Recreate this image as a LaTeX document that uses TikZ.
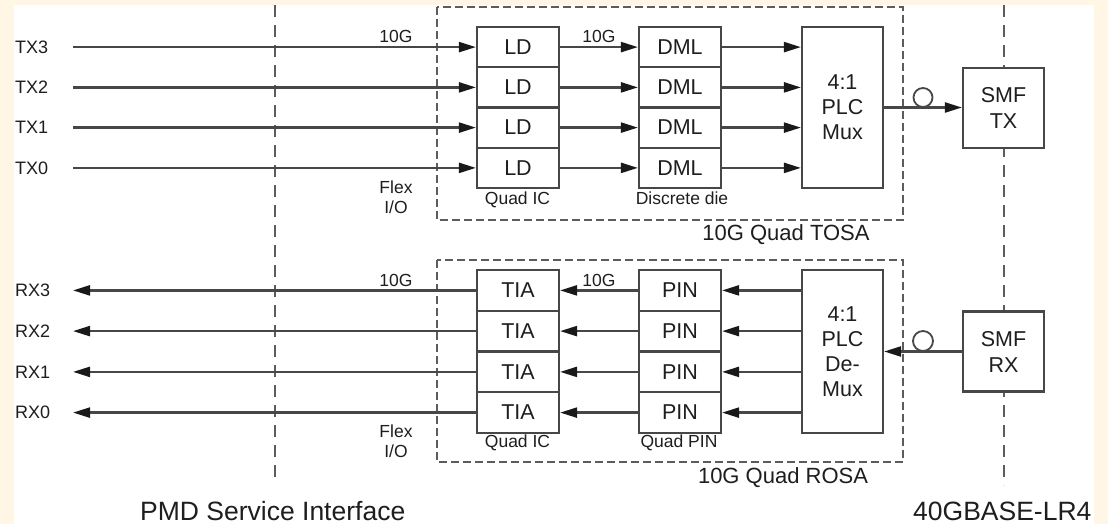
\documentclass[tikz,border=0pt]{standalone}
\usepackage{fontspec}
\setmainfont{Liberation Sans}
\usetikzlibrary{arrows.meta}
\definecolor{cream}{HTML}{FFF6E5}
\definecolor{linegray}{HTML}{474747}
\definecolor{dashgray}{HTML}{5C5C5C}
\definecolor{txtgray}{HTML}{1E1E1E}
\begin{document}
\begin{tikzpicture}[x=1pt,y=-1pt,
  box/.style={draw=linegray, line width=2.2pt, fill=white, inner sep=0pt,
    minimum width=82pt, minimum height=40.25pt, text=txtgray,
    font=\fontsize{21.5}{25}\selectfont},
  tall/.style={box, minimum width=81pt, minimum height=161pt, align=center},
  smf/.style={box, minimum width=81pt, minimum height=80pt, align=center,
    font=\fontsize{21.5}{26}\selectfont},
  sig/.style={draw=linegray, line width=2.3pt},
  arr/.style={sig, -{Triangle[length=17pt,width=10pt,color=black!90]}},
  sep/.style={draw=dashgray, line width=2.3pt, dash pattern=on 12pt off 8pt},
  grp/.style={draw=dashgray, line width=2.3pt, dash pattern=on 8pt off 4pt},
  port/.style={font=\fontsize{18}{20}\selectfont, text=txtgray, inner sep=0pt, anchor=west},
  small/.style={font=\fontsize{17.5}{20}\selectfont, text=txtgray, inner sep=0pt, align=center},
  grpname/.style={font=\fontsize{22}{24}\selectfont, text=txtgray, inner sep=0pt, anchor=base},
  big/.style={font=\fontsize{26.5}{30}\selectfont, text=txtgray, inner sep=0pt, anchor=base west},
  fiber/.style={circle, draw=linegray, line width=1.8pt, fill=white, inner sep=0pt}
]
\useasboundingbox (0,0) rectangle (1108,524);
\fill[cream] (0,0) rectangle (1108,524);
\fill[white] (14,5) rectangle (1094,524);

% interface separators
\coordinate (pmdtop) at (275,5);
\coordinate (pmdbot) at (275,483);
\coordinate (lrtop) at (1004,5);
\coordinate (lrbot) at (1004,485);
\draw[sep] (pmdtop) -- (pmdbot);
\draw[sep] (lrtop) -- (lrbot);

% group outlines
\draw[grp] (437,7) rectangle (903,220);
\draw[grp] (437,260) rectangle (903,462);

% big blocks
\node[tall] (mux) at (842.5,107.5) {4:1\\PLC\\Mux};
\node[tall, minimum height=163pt] (demux) at (842.5,351.5) {4:1\\PLC\\De-\\Mux};
\node[smf] (smftx) at (1003.5,108) {SMF\\TX};
\node[smf] (smfrx) at (1003.5,351.5) {SMF\\RX};

% transmit lanes
\foreach \n/\y in {3/47.1,2/87.4,1/127.6,0/167.9} {
  \node[box] (ld\n) at (518,\y) {LD};
  \node[box] (dml\n) at (680,\y) {DML};
  \node[port] (txl\n) at (15,\y) {TX\n};
  \coordinate (txs\n) at (73,\y);
  \draw[arr] (txs\n) -- (ld\n);
  \draw[arr] (ld\n) -- (dml\n);
  \draw[arr] (dml\n) -- (mux.west |- dml\n);
}

% receive lanes
\foreach \n/\y in {3/290.4,2/331.1,1/371.9,0/412.6} {
  \node[box, minimum height=40.75pt] (tia\n) at (518,\y) {TIA};
  \node[box, minimum height=40.75pt] (pin\n) at (680,\y) {PIN};
  \node[port] (rxl\n) at (15,\y) {RX\n};
  \coordinate (rxe\n) at (73,\y);
  \draw[arr] (tia\n) -- (rxe\n);
  \draw[arr] (pin\n) -- (tia\n);
  \draw[arr] (demux.west |- pin\n) -- (pin\n);
}

% fibre connections
\draw[arr] (mux.east) -- (smftx.west |- mux.east);
\draw[arr] (smfrx.west) -- (demux.east |- smfrx.west);
\node[fiber, minimum size=19pt] (ftx) at (923,97.5) {};
\node[fiber, minimum size=20pt] (frx) at (923,341) {};

% labels
\node[small] (r1) at (396,36) {10G};
\node[small] (r2) at (599,36) {10G};
\node[small] (r3) at (396,280) {10G};
\node[small] (r4) at (599,280) {10G};
\node[small, anchor=base] (qic1) at (517.5,204) {Quad IC};
\node[small, anchor=base] (dd) at (682,204) {Discrete die};
\node[small, anchor=base] (qic2) at (517.5,447) {Quad IC};
\node[small, anchor=base] (qpin) at (679,447) {Quad PIN};
\node[small] (flex1) at (396,197.5) {Flex\\I/O};
\node[small] (flex2) at (396,441) {Flex\\I/O};
\node[grpname] (tosa) at (786,240.5) {10G Quad TOSA};
\node[grpname] (rosa) at (783,483) {10G Quad ROSA};
\node[big] (pmd) at (140,520) {PMD Service Interface};
\node[big] (lr4) at (913,520) {40GBASE-LR4};
\end{tikzpicture}
\end{document}
